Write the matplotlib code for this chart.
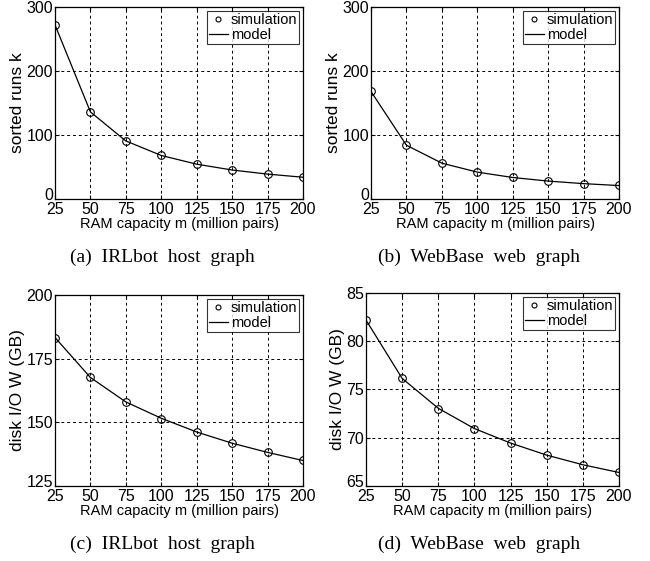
import matplotlib
matplotlib.use("Agg")
import matplotlib.pyplot as plt
import matplotlib.transforms as mtransforms

plt.rcParams["font.family"] = ["Liberation Sans", "DejaVu Sans"]

# RAM capacity m (million pairs)
ram = [25, 50, 75, 100, 125, 150, 175, 200]

# (a) IRLbot host graph, sorted runs k
irl_runs_sim = [272, 136.5, 90.5, 68.5, 55, 45.5, 39, 34.5]
irl_runs_model = [272, 136, 90.7, 68, 54.4, 45.3, 38.9, 34]
# (b) WebBase web graph, sorted runs k
wb_runs_sim = [168, 84, 56, 42, 33.6, 28, 24.2, 21.2]
wb_runs_model = [168, 84, 56, 42, 33.6, 28, 24, 21]
# (c) IRLbot host graph, disk I/O W (GB)
irl_io_sim = [183.3, 167.7, 158.1, 151.5, 146.1, 141.8, 138.2, 135.1]
irl_io_model = [183.3, 167.6, 158.0, 151.6, 146.2, 141.8, 138.2, 135.0]
# (d) WebBase web graph, disk I/O W (GB)
wb_io_sim = [82.2, 76.2, 73.0, 70.95, 69.45, 68.2, 67.2, 66.4]
wb_io_model = [82.2, 76.15, 73.05, 70.95, 69.45, 68.2, 67.2, 66.4]

xticks = [25, 50, 75, 100, 125, 150, 175, 200]

panels = [
    # (rect in px: left, top, right, bottom), caption x centre, sim, model,
    # ylim, yticks, ylabel, caption
    ((55, 7, 303, 199), 162, irl_runs_sim, irl_runs_model, (0, 300),
     [0, 100, 200, 300], "sorted runs k", "(a)  IRLbot  host  graph"),
    ((371, 7, 619, 199), 479, wb_runs_sim, wb_runs_model, (0, 300),
     [0, 100, 200, 300], "sorted runs k", "(b)  WebBase  web  graph"),
    ((55, 295, 303, 486), 162, irl_io_sim, irl_io_model, (125, 200),
     [125, 150, 175, 200], "disk I/O W (GB)", "(c)  IRLbot  host  graph"),
    ((366, 293, 619, 486), 479, wb_io_sim, wb_io_model, (65, 85),
     [65, 70, 75, 80, 85], "disk I/O W (GB)", "(d)  WebBase  web  graph"),
]

W, H = 650, 561
fig = plt.figure(figsize=(W / 100, H / 100), dpi=100)

for (l, t, r, b), cx, sim, model, ylim, yticks, ylabel, caption in panels:
    ax = fig.add_axes([l / W, (H - b) / H, (r - l) / W, (b - t) / H])
    ax.plot(ram, sim, "o", mfc="none", mec="black", ms=5.5, mew=0.8, label="simulation")
    ax.plot(ram, model, "-", color="black", lw=0.9, label="model")
    ax.set_xlim(25, 200)
    ax.set_ylim(*ylim)
    ax.set_xticks(xticks)
    ax.set_yticks(yticks)
    ax.grid(True, color="black", linestyle=(0, (3, 3)), linewidth=0.7)
    ax.tick_params(direction="in", length=3, labelsize=11.5, pad=1.5,
                   top=True, right=True)
    ax.tick_params(axis="x", pad=2)
    # lowest y label sits just above the first x label, as in the original
    lbl = ax.get_yticklabels()[0]
    lbl.set_transform(lbl.get_transform() + mtransforms.ScaledTranslation(
        0, 3.5 / 72, fig.dpi_scale_trans))
    for s in ax.spines.values():
        s.set_linewidth(0.9)
    ax.set_xlabel("RAM capacity m (million pairs)", fontsize=10.5, labelpad=0)
    ax.set_ylabel(ylabel, fontsize=12.5, labelpad=1)
    leg = ax.legend(loc="upper right", fontsize=10.5, frameon=True, fancybox=False,
                    borderaxespad=0.25, handlelength=1.3, handletextpad=0.2,
                    borderpad=0.15, labelspacing=0.1, markerscale=0.65)
    leg.get_frame().set_edgecolor("black")
    leg.get_frame().set_linewidth(0.8)
    fig.text(cx / W, 1 - (b + 58) / H, caption, ha="center", va="center",
             fontsize=14, family=["Liberation Serif", "DejaVu Serif"])

fig.savefig("out.png", dpi=100)
